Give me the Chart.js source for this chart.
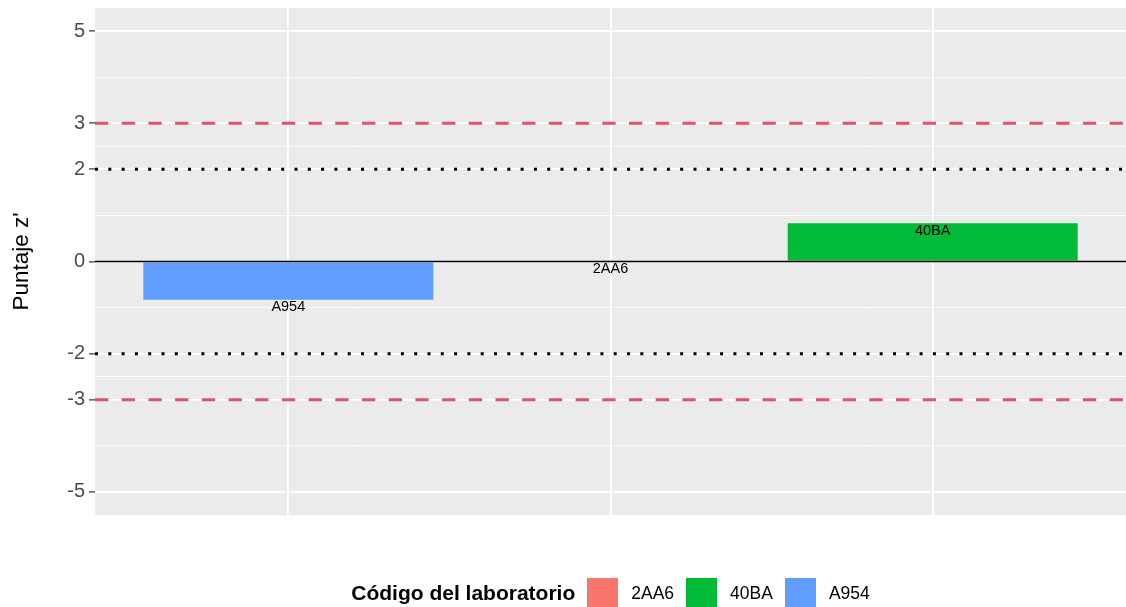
<!DOCTYPE html>
<html>
<head>
<meta charset="utf-8">
<script src="https://cdn.jsdelivr.net/npm/chart.js@4/dist/chart.umd.min.js"></script>
<style>
  html, body { margin: 0; padding: 0; background: #fff; }
  #wrap { position: relative; width: 1126px; height: 607px; }
  #leyenda {
    position: absolute; left: 101px; width: 1031px; top: 577px; height: 32px;
    display: flex; justify-content: center; align-items: center;
    font-family: 'Liberation Sans', Arial, sans-serif; font-size: 17.5px; color: #000;
  }
  #leyenda .titulo { font-weight: bold; font-size: 21px; margin-right: 12px; }
  #leyenda .caja { width: 31px; height: 31px; margin-right: 13px; }
  #leyenda .etq { margin-right: 12px; }
</style>
</head>
<body>
<div id="wrap">
  <canvas id="grafico" width="1126" height="607"></canvas>
  <div id="leyenda"></div>
</div>
<script>
// --- DATOS ---
const laboratorios = ['A954', '2AA6', '40BA'];
const posiciones = [1, 2, 3];
const puntajes = [-0.83, 0, 0.83];

// leyenda (orden alfabético, como ggplot)
const codigosLeyenda = ['2AA6', '40BA', 'A954'];
const coloresLeyenda = ['#F8766D', '#00BA38', '#619CFF'];

const ticksY = [-5, -3, -2, 0, 2, 3, 5];
const ticksMenoresY = [-4, -2.5, -1, 1, 2.5, 4];
const limitesAccion = [-3, 3];
const limitesAviso = [-2, 2];

const colorDe = (cod) => coloresLeyenda[codigosLeyenda.indexOf(cod)];
const fuente = "'Liberation Sans', Arial, sans-serif";

// fondo gris del panel
const fondoPanel = {
  id: 'fondoPanel',
  beforeDraw(chart) {
    const { ctx, chartArea: a } = chart;
    ctx.save();
    ctx.fillStyle = '#EBEBEB';
    ctx.fillRect(a.left, a.top, a.right - a.left, a.bottom - a.top);
    ctx.restore();
  }
};

// líneas de referencia y etiquetas de barras
const lineasRef = {
  id: 'lineasRef',
  afterDatasetsDraw(chart) {
    const { ctx, chartArea: a, scales } = chart;
    const y = scales.y;
    const linea = (v, color, ancho, guion) => {
      const py = y.getPixelForValue(v);
      ctx.save();
      ctx.strokeStyle = color;
      ctx.lineWidth = ancho;
      ctx.setLineDash(guion);
      ctx.beginPath();
      ctx.moveTo(a.left, py);
      ctx.lineTo(a.right, py);
      ctx.stroke();
      ctx.restore();
    };
    linea(0, '#000', 1.4, []);
    limitesAviso.forEach(v => linea(v, '#000', 3, [3, 10.3]));
    limitesAccion.forEach(v => linea(v, '#DF536B', 3, [13.3, 13.4]));

    // etiquetas
    const meta = chart.getDatasetMeta(0);
    ctx.save();
    ctx.fillStyle = '#000';
    ctx.font = '14.5px ' + fuente;
    ctx.textAlign = 'center';
    ctx.textBaseline = 'middle';
    meta.data.forEach((bar, i) => {
      ctx.fillText(laboratorios[i], bar.x, y.getPixelForValue(puntajes[i]) + 7.5);
    });
    ctx.restore();
  }
};

const todosY = ticksY.concat(ticksMenoresY).sort((a, b) => a - b);
const esMayor = (v) => ticksY.includes(v);

new Chart(document.getElementById('grafico'), {
  type: 'bar',
  data: {
    datasets: [{
      data: posiciones.map((x, i) => ({ x: x, y: puntajes[i] })),
      backgroundColor: laboratorios.map(colorDe),
      borderWidth: 0,
      barPercentage: 0.9,
      categoryPercentage: 1
    }]
  },
  options: {
    responsive: false,
    animation: false,
    layout: { padding: { top: 8, right: 0, bottom: 92, left: 0 } },
    plugins: { legend: { display: false }, tooltip: { enabled: false } },
    scales: {
      x: {
        type: 'linear',
        min: 0.4,
        max: 3.6,
        offset: false,
        afterBuildTicks: (s) => { s.ticks = posiciones.map(v => ({ value: v })); },
        ticks: { display: false },
        grid: { color: '#FFFFFF', lineWidth: 1.8, drawTicks: false, offset: false },
        border: { display: false }
      },
      y: {
        min: -5.5,
        max: 5.5,
        afterBuildTicks: (s) => { s.ticks = todosY.map(v => ({ value: v })); },
        afterFit: (s) => { s.width = 95; s.paddingTop = 0; s.paddingBottom = 0; },
        ticks: {
          autoSkip: false,
          padding: 4,
          color: '#4D4D4D',
          font: { family: fuente, size: 20 },
          callback: (v) => esMayor(v) ? String(v) : ''
        },
        grid: {
          color: '#FFFFFF',
          lineWidth: (c) => esMayor(c.tick.value) ? 1.8 : 0.9,
          tickColor: (c) => esMayor(c.tick.value) ? '#333333' : 'rgba(0,0,0,0)',
          tickLength: 6,
          tickWidth: 1.2
        },
        border: { display: false },
        title: {
          display: true,
          text: "Puntaje z'",
          color: '#000',
          font: { family: fuente, size: 22.5 },
          padding: { top: 8, bottom: 0 }
        }
      }
    }
  },
  plugins: [fondoPanel, lineasRef]
});

// leyenda HTML
const leyenda = document.getElementById('leyenda');
leyenda.innerHTML = '<span class="titulo">Código del laboratorio</span>' +
  codigosLeyenda.map((c, i) =>
    `<span class="caja" style="background:${coloresLeyenda[i]}"></span><span class="etq">${c}</span>`
  ).join('');
</script>
</body>
</html>
